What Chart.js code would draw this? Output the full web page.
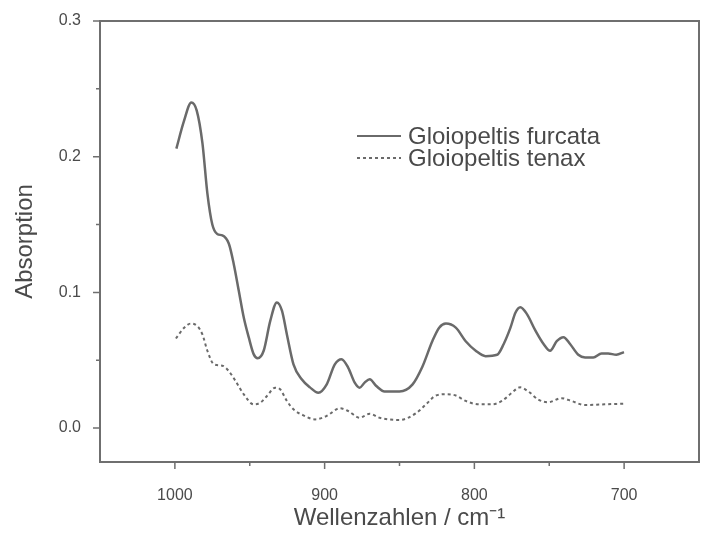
<!DOCTYPE html>
<html>
<head>
<meta charset="utf-8">
<script src="https://cdn.jsdelivr.net/npm/chart.js@4"></script>
<style>body{margin:0;background:#fff}</style>
</head>
<body>
<canvas id="grafico" width="703" height="533"></canvas>
<script>
const wnFurcata = [999, 994, 989, 985.4, 981.6, 978.3, 975, 971.7, 968.3, 964, 960.7, 957.3, 954, 950.7, 947.4, 944.7, 940.7, 936.3, 931.9, 928.5, 925.2, 920.8, 915.3, 909.8, 904.2, 898.7, 893.2, 888.7, 884.3, 879.9, 876.6, 873.3, 869.9, 865.5, 860, 850, 841.4, 834.8, 828.1, 823.5, 819, 812.4, 805.8, 799.1, 792.5, 784.8, 780.4, 775.9, 772.6, 769.3, 764.9, 759.3, 753.8, 749.4, 745, 740.5, 736.1, 730.6, 726.1, 720.6, 715.1, 710.7, 705.2, 700.1];
const absFurcata = [0.206, 0.226, 0.240, 0.234, 0.210, 0.173, 0.150, 0.143, 0.142, 0.136, 0.121, 0.101, 0.0815, 0.067, 0.0545, 0.0515, 0.057, 0.079, 0.0926, 0.0865, 0.069, 0.047, 0.036, 0.030, 0.026, 0.032, 0.047, 0.0508, 0.0446, 0.0335, 0.0298, 0.0335, 0.036, 0.031, 0.027, 0.027, 0.032, 0.045, 0.064, 0.074, 0.077, 0.074, 0.064, 0.057, 0.053, 0.054, 0.062, 0.074, 0.085, 0.089, 0.084, 0.072, 0.062, 0.057, 0.064, 0.067, 0.062, 0.054, 0.052, 0.052, 0.055, 0.055, 0.054, 0.056];

const wnTenax = [999.3, 993.8, 989.4, 984.9, 981.6, 978.3, 973.9, 968.3, 964, 959.5, 954, 947.4, 942.9, 938.5, 933, 929.7, 925.2, 920.8, 914.2, 906.4, 898.7, 889.8, 884.3, 876.6, 869.9, 863.3, 850, 838.9, 832.3, 825.7, 819, 812.4, 805.8, 797, 788.2, 781.6, 775, 769.5, 764, 757.3, 750.7, 741.9, 735.2, 726.3, 713, 700.1];
const absTenax = [0.066, 0.074, 0.077, 0.075, 0.069, 0.057, 0.047, 0.046, 0.042, 0.0347, 0.0249, 0.0175, 0.0187, 0.0236, 0.0298, 0.0286, 0.020, 0.0138, 0.0094, 0.0064, 0.0089, 0.0146, 0.0126, 0.0076, 0.0106, 0.0076, 0.006, 0.011, 0.0175, 0.024, 0.025, 0.024, 0.020, 0.0175, 0.0175, 0.020, 0.026, 0.030, 0.027, 0.021, 0.019, 0.022, 0.020, 0.017, 0.0175, 0.018];

const nomes = ["Gloiopeltis furcata", "Gloiopeltis tenax"];
const xMin = 650, xMax = 1050;
const yMin = -0.025, yMax = 0.3;

const corEixo = "#6f6f6f";
const corLinha = "#6a6a6a";
const corTexto = "#4a4a4a";
Chart.defaults.font.family = "'Liberation Sans', Arial, sans-serif";

function pontos(xs, ys) {
    return xs.map((x, i) => ({ x: x, y: ys[i] }));
}
function ehMajor(v, passo) {
    return Math.abs(Math.round(v / passo) - v / passo) < 1e-6;
}

// moldura, marcas dos eixos e legenda dentro do grafico
const molduraPlugin = {
    id: "moldura",
    afterDraw(chart) {
        const ctx = chart.ctx, a = chart.chartArea;
        const sx = chart.scales.x, sy = chart.scales.y;
        ctx.save();
        ctx.strokeStyle = corEixo;
        ctx.lineWidth = 2;
        ctx.beginPath();
        ctx.moveTo(a.left, a.top);
        ctx.lineTo(a.right, a.top);
        ctx.lineTo(a.right, a.bottom);
        ctx.stroke();

        // marcas maiores e menores
        ctx.lineWidth = 1.5;
        ctx.beginPath();
        sx.ticks.forEach(t => {
            if (t.value <= xMin || t.value >= xMax) return;
            const px = sx.getPixelForValue(t.value);
            const len = ehMajor(t.value, 100) ? 7 : 4;
            ctx.moveTo(px, a.bottom);
            ctx.lineTo(px, a.bottom + len);
        });
        sy.ticks.forEach(t => {
            if (t.value <= yMin + 1e-9) return;
            const py = sy.getPixelForValue(t.value);
            const len = ehMajor(t.value, 0.1) ? 7 : 4;
            ctx.moveTo(a.left, py);
            ctx.lineTo(a.left - len, py);
        });
        ctx.stroke();

        // legenda
        const leg = [{ y: 136, dash: [] }, { y: 158, dash: [3, 3] }];
        ctx.font = "24px 'Liberation Sans', Arial, sans-serif";
        ctx.fillStyle = corTexto;
        ctx.textBaseline = "middle";
        leg.forEach((l, i) => {
            ctx.beginPath();
            ctx.strokeStyle = corLinha;
            ctx.lineWidth = 2;
            ctx.setLineDash(l.dash);
            ctx.moveTo(357, l.y);
            ctx.lineTo(401, l.y);
            ctx.stroke();
            ctx.setLineDash([]);
            ctx.fillText(nomes[i], 408, l.y + 1);
        });
        ctx.restore();
    }
};

new Chart(document.getElementById("grafico"), {
    type: "line",
    data: {
        datasets: [{
            label: nomes[0],
            data: pontos(wnFurcata, absFurcata),
            borderColor: corLinha,
            borderWidth: 2.5,
            pointRadius: 0,
            cubicInterpolationMode: "monotone",
            fill: false
        }, {
            label: nomes[1],
            data: pontos(wnTenax, absTenax),
            borderColor: corLinha,
            borderWidth: 2,
            borderDash: [3, 3],
            pointRadius: 0,
            cubicInterpolationMode: "monotone",
            fill: false
        }]
    },
    options: {
        responsive: false,
        animation: false,
        layout: { padding: { top: 21, right: 4, left: 0, bottom: 0 } },
        plugins: { legend: { display: false }, tooltip: { enabled: false } },
        scales: {
            x: {
                type: "linear",
                reverse: true,
                min: xMin,
                max: xMax,
                grid: { display: false },
                border: { display: true, color: corEixo, width: 2 },
                ticks: {
                    stepSize: 50,
                    autoSkip: false,
                    maxRotation: 0,
                    padding: 16,
                    color: corTexto,
                    font: { size: 16 },
                    callback: v => ehMajor(v, 100) ? String(v) : ""
                },
                title: {
                    display: true,
                    text: "Wellenzahlen / cm\u207B\u00B9",
                    color: corTexto,
                    font: { size: 24 },
                    padding: { top: 0, bottom: 0 }
                },
                afterFit: s => { s.height = 71; s.paddingLeft = 0; s.paddingRight = 0; }
            },
            y: {
                min: yMin,
                max: yMax,
                grid: { display: false },
                border: { display: true, color: corEixo, width: 2 },
                ticks: {
                    stepSize: 0.05,
                    autoSkip: false,
                    padding: 11,
                    color: corTexto,
                    font: { size: 16 },
                    callback: v => ehMajor(v, 0.1) ? v.toFixed(1) : ""
                },
                title: {
                    display: true,
                    text: "Absorption",
                    color: corTexto,
                    font: { size: 24 },
                    padding: { top: 11, bottom: 0 }
                },
                afterFit: s => { s.width = 100; s.paddingTop = 0; s.paddingBottom = 0; }
            }
        }
    },
    plugins: [molduraPlugin]
});
</script>
</body>
</html>
